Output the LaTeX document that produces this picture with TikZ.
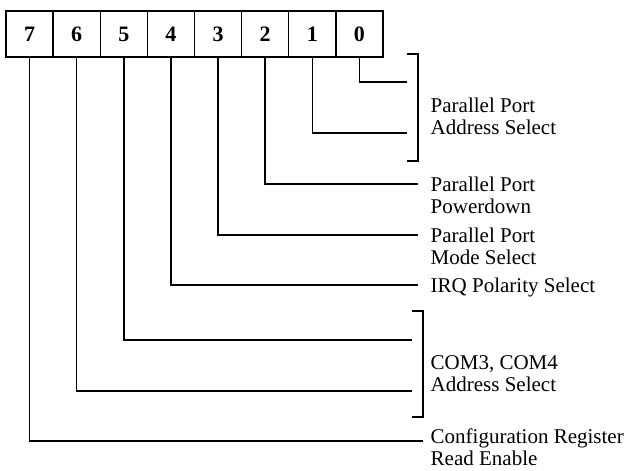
\documentclass[tikz,border=0pt]{standalone}
\usepackage{fontspec}
\setmainfont{Liberation Serif}
\begin{document}
\begin{tikzpicture}[x=1pt,y=-1pt,line width=1.4pt,
  cell/.style={draw,minimum width=47.125pt,minimum height=46pt,inner sep=0pt,
    font=\fontsize{22}{22}\selectfont\bfseries},
  lbl/.style={anchor=base west,align=left,inner sep=0pt,
    font=\fontsize{21}{22}\selectfont},
  wire/.style={line width=1.4pt}]
\useasboundingbox (0,0) rectangle (629,471);
\foreach \b [count=\k from 0] in {7,6,5,4,3,2,1,0}
  \node[cell] (b\b) at ({6+47.125*(\k+0.5)},34) {\b};
% wire ends
\coordinate (e0) at (407,82);
\coordinate (e1) at (407,133);
\coordinate (e2) at (418,184);
\coordinate (e3) at (418,235);
\coordinate (e4) at (418,285);
\coordinate (e5) at (412,340);
\coordinate (e6) at (412,391);
\coordinate (e7) at (423,441);
\foreach \b in {0,...,7}
  \draw[wire] (b\b.south) |- (e\b);
% brackets
\coordinate (pa1) at (407,54);
\coordinate (pa2) at (418,161);
\draw[wire] (pa1) -| (pa2) -- ++(-11,0);
\coordinate (ca1) at (412,311);
\coordinate (ca2) at (423,417);
\draw[wire] (ca1) -| (ca2) -- ++(-11,0);
% labels (base = baseline of last line)
\node[lbl] (l01) at (430,134) {Parallel Port\\Address Select};
\node[lbl] (l2) at (430,213) {Parallel Port\\Powerdown};
\node[lbl] (l3) at (430,264) {Parallel Port\\Mode Select};
\node[lbl] (l4) at (430,292) {IRQ Polarity Select};
\node[lbl] (l56) at (430,391) {COM3, COM4\\Address Select};
\node[lbl] (l7) at (430,465) {Configuration Register\\Read Enable};
\end{tikzpicture}
\end{document}
